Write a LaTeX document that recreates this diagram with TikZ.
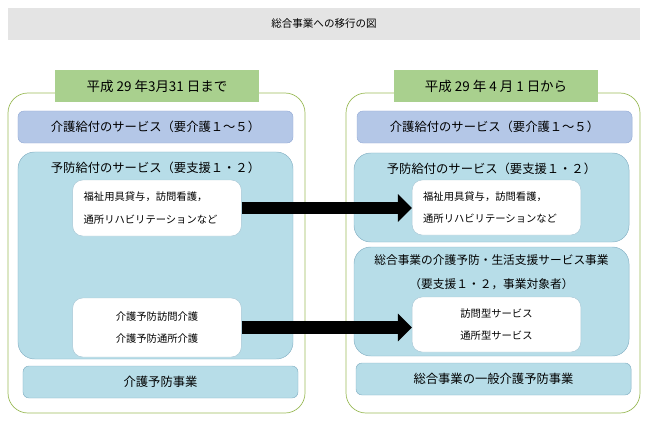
\documentclass[tikz,border=0pt]{standalone}
\usepackage{fontspec}
\setmainfont{Noto Sans CJK JP}
\usetikzlibrary{arrows.meta}
\definecolor{titlegray}{RGB}{228,228,228}
\definecolor{labelgreen}{RGB}{169,208,142}
\definecolor{framegreen}{RGB}{155,187,89}
\definecolor{kaigoblue}{RGB}{180,199,231}
\definecolor{kaigoline}{RGB}{150,172,214}
\definecolor{yoboublue}{RGB}{183,221,232}
\definecolor{yobouline}{RGB}{132,176,196}

\begin{document}
\begin{tikzpicture}[x=0.03cm, y=-0.03cm]
    \tikzset{frame/.style={draw=framegreen, line width=0.6pt, rounded corners=0.6cm},
             datebox/.style={fill=labelgreen, minimum width=6.12cm, minimum height=0.96cm, font=\fontsize{11.5}{13}\selectfont},
             kaigobox/.style={draw=kaigoline, fill=kaigoblue, rounded corners=0.18cm, minimum width=8.25cm, minimum height=0.96cm, font=\fontsize{10.5}{12}\selectfont},
             yoboubox/.style={draw=yobouline, fill=yoboublue, rounded corners=0.5cm, minimum width=8.25cm},
             jigyoubox/.style={draw=yobouline, fill=yoboublue, rounded corners=0.18cm, minimum width=8.25cm, minimum height=0.96cm, font=\fontsize{10.5}{12}\selectfont},
             whitebox/.style={draw=yobouline!70, fill=white, rounded corners=0.3cm, minimum width=5.06cm, minimum height=1.68cm, font=\fontsize{8.8}{19}\selectfont},
             boxtitle/.style={font=\fontsize{10.5}{12}\selectfont},
             bigarrow/.style={line width=11pt, -{Triangle[width=23pt, length=12pt]}}}
    \useasboundingbox (0,0) rectangle (650,424);
    % title
    \node[fill=titlegray, minimum width=18.96cm, minimum height=0.96cm, font=\fontsize{9}{11}\selectfont] (title) at (324,24) {総合事業への移行の図};
    % frames
    \draw[frame] (8,93) rectangle (305,413);
    \draw[frame] (346,93) rectangle (640,413);
    \node[datebox] (before) at (157,86) {平成 29 年3月31 日まで};
    \node[datebox] (after) at (496,86) {平成 29 年 4 月 1 日から};
    % left side
    \node[kaigobox] (kaigoL) at (155.5,127) {介護給付のサービス（要介護１～５）};
    \node[yoboubox, minimum height=6.21cm] (yobouL) at (155.5,255.5) {};
    \node[boxtitle] (yobouLt) at (155.5,168) {予防給付のサービス（要支援１・２）};
    \node[whitebox, text width=4.4cm, align=left] (w1) at (157,208) {福祉用具貸与，訪問看護，\\通所リハビリテーションなど};
    \node[whitebox, minimum height=1.77cm, align=center] (w2) at (157,327.5) {介護予防訪問介護\\介護予防通所介護};
    \node[jigyoubox] (jigyouL) at (160.5,382) {介護予防事業};
    % right side
    \node[kaigobox] (kaigoR) at (494.5,127) {介護給付のサービス（要介護１～５）};
    \node[yoboubox, minimum height=2.67cm] (yobouR) at (491.5,197.5) {};
    \node[boxtitle] (yobouRt) at (491.5,169) {予防給付のサービス（要支援１・２）};
    \node[whitebox, minimum height=1.65cm, text width=4.4cm, align=left] (w3) at (496.5,207.5) {福祉用具貸与，訪問看護，\\通所リハビリテーションなど};
    \node[yoboubox, minimum height=3.27cm] (sougouR) at (491.5,301.5) {};
    \node[boxtitle, align=center, font=\fontsize{10}{20}\selectfont] (sougouRt) at (491.5,272) {総合事業の介護予防・生活支援サービス事業\\（要支援１・２，事業対象者）};
    \node[whitebox, minimum height=1.65cm, align=center] (w4) at (496.5,324.5) {訪問型サービス\\通所型サービス};
    \node[jigyoubox] (ippanR) at (493.5,379) {総合事業の一般介護予防事業};
    % arrows
    \draw[bigarrow] (w1.east) -- (w1.east -| w3.west);
    \draw[bigarrow] (w2.east) -- (w2.east -| w4.west);
\end{tikzpicture}
\end{document}
